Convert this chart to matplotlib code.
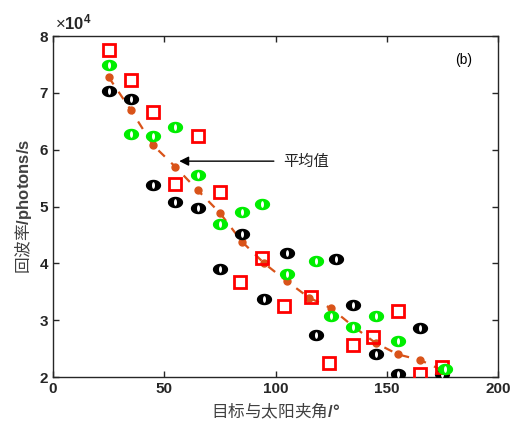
import numpy as np
import matplotlib
matplotlib.use('Agg')
import matplotlib.pyplot as plt
from matplotlib.path import Path

plt.rcParams['font.family'] = ['Liberation Sans', 'Noto Sans CJK SC', 'DejaVu Sans']
plt.rcParams['mathtext.fontset'] = 'custom'
plt.rcParams['mathtext.bf'] = 'Liberation Sans:bold'
plt.rcParams['mathtext.rm'] = 'Liberation Sans'

# data, photons/s in units of 1e4
black_x = [25, 35, 45, 55, 65, 75, 85, 95, 105, 118, 127, 135, 145, 155, 165, 175]
black_y = [7.03, 6.90, 5.38, 5.08, 4.97, 3.90, 4.52, 3.37, 4.19, 2.74, 4.08, 3.27, 2.40, 2.06, 2.87, 2.06]

green_x = [25, 35, 45, 55, 65, 75, 85, 94, 105, 118, 125, 135, 145, 155, 176]
green_y = [7.50, 6.27, 6.25, 6.40, 5.55, 4.70, 4.91, 5.04, 3.81, 4.05, 3.08, 2.88, 3.07, 2.63, 2.14]

red_x = [25, 35, 45, 55, 65, 75, 84, 94, 104, 116, 124, 135, 144, 155, 165, 175]
red_y = [7.75, 7.23, 6.67, 5.39, 6.24, 5.25, 3.67, 4.09, 3.25, 3.41, 2.24, 2.56, 2.71, 3.16, 2.06, 2.17]

mean_x = [25, 35, 45, 55, 65, 75, 85, 95, 105, 115, 125, 135, 145, 155, 165, 175]
mean_y = [7.28, 6.70, 6.08, 5.70, 5.29, 4.89, 4.38, 4.00, 3.69, 3.40, 3.21, 2.89, 2.60, 2.40, 2.30, 2.12]

# ring-like markers: wide ellipse with a thin vertical hole
t = np.linspace(0, 2*np.pi, 40)
outer = Path(np.column_stack([np.cos(t), 0.75*np.sin(t)]))
hole = Path(np.column_stack([0.45*np.cos(t), np.sin(t)]))

fig = plt.figure(figsize=(5.14, 4.30), dpi=100)
ax = fig.add_axes([0.103, 0.123, 0.866, 0.793])

orange = '#D95319'
ax.plot(mean_x, mean_y, color=orange, lw=1.6, ls=(0, (4, 4)),
        marker='o', ms=5, zorder=2)

ax.plot(black_x, black_y, ls='none', marker=outer, ms=11, color='black', mew=0, zorder=3)
ax.plot(black_x, black_y, ls='none', marker=hole, ms=4.8, color='white', mew=0, zorder=3)
ax.plot(red_x, red_y, ls='none', marker='s', ms=8.5, mfc='none', mec='red', mew=2, zorder=4)
ax.plot(green_x, green_y, ls='none', marker=outer, ms=11, color='#00EE00', mew=0, zorder=5)
ax.plot(green_x, green_y, ls='none', marker=hole, ms=4.8, color='white', mew=0, zorder=5)

ax.annotate('', xy=(55.5, 5.80), xytext=(100.5, 5.80),
            arrowprops=dict(arrowstyle='-|>', color='black', lw=1, mutation_scale=14), zorder=6)
ax.text(103.5, 5.80, '平均值', fontsize=11, va='center', ha='left',
        family=['Noto Sans CJK SC'], color='#222222')
ax.text(180.5, 7.58, '(b)', fontsize=10, va='center', ha='left')

ax.set_xlim(0, 200)
ax.set_ylim(2, 8)
ax.set_xticks([0, 50, 100, 150, 200])
ax.set_yticks([2, 3, 4, 5, 6, 7, 8])
ax.tick_params(direction='in', top=True, right=True, length=4, width=1,
               labelsize=11, colors='#262626')
for lbl in ax.get_xticklabels() + ax.get_yticklabels():
    lbl.set_fontweight('bold')
for s in ax.spines.values():
    s.set_color('#262626')
    s.set_linewidth(1)

ax.text(0.005, 1.01, r'$\times\mathbf{10^4}$', transform=ax.transAxes,
        fontsize=12, va='bottom', ha='left', color='#262626')

ax.set_xlabel(r'目标与太阳夹角$\mathbf{/°}$', fontsize=12, color='#404040',
              family=['Noto Sans CJK SC'])
ax.set_ylabel(r'回波率$\mathbf{/photons/s}$', fontsize=12, color='#404040',
              family=['Noto Sans CJK SC'])

fig.savefig('out.png', dpi=100)
